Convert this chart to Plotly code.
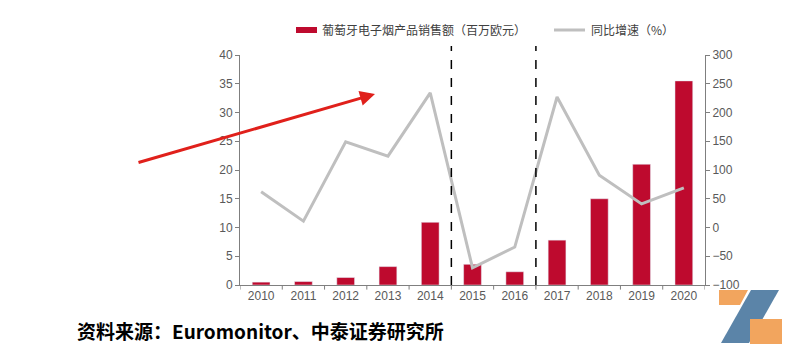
import plotly.graph_objects as go

years = ["2010", "2011", "2012", "2013", "2014", "2015", "2016", "2017", "2018", "2019", "2020"]
sales = [0.5, 0.6, 1.3, 3.2, 10.9, 3.6, 2.3, 7.8, 15.0, 21.0, 35.5]
growth = [62, 11, 149, 124, 234, -70, -34, 227, 91, 41, 69]

bar_name = "葡萄牙电子烟产品销售额（百万欧元）"
line_name = "同比增速（%）"
source_text = "资料来源：Euromonitor、中泰证券研究所"

BAR_COLOR = "#BE0A2E"
LINE_COLOR = "#BFBFBF"

L, R, T, B = 240, 705, 55, 285
W, H = R - L, B - T

def px(x):
    return (x - L) / W

def py(y):
    return (B - y) / H

fig = go.Figure()
fig.add_trace(go.Bar(x=years, y=sales, name=bar_name, marker_color=BAR_COLOR,
                     width=0.42, yaxis="y", showlegend=False))
fig.add_trace(go.Scatter(x=years, y=growth, name=line_name, mode="lines",
                         line=dict(color=LINE_COLOR, width=3), yaxis="y2", showlegend=False))

axis_font = dict(family="Liberation Sans, Arial", size=12, color="#595959")
fig.update_layout(
    width=792, height=356,
    margin=dict(l=L, r=792 - R, t=T, b=356 - B),
    paper_bgcolor="white", plot_bgcolor="white",
    xaxis=dict(type="category", showgrid=False, showline=True, linecolor="#7F7F7F",
               linewidth=1, ticks="", tickfont=axis_font, range=[-0.5, 10.5]),
    yaxis=dict(range=[0, 40], dtick=5, showgrid=False, showline=True, linecolor="#7F7F7F",
               ticks="outside", ticklen=4, tickcolor="#7F7F7F", tickfont=axis_font, zeroline=False),
    yaxis2=dict(range=[-100, 300], dtick=50, overlaying="y", side="right", showgrid=False,
                showline=True, linecolor="#7F7F7F", ticks="outside", ticklen=4,
                tickcolor="#7F7F7F", tickfont=axis_font, zeroline=False),
)

shapes = []
for i in range(12):
    shapes.append(dict(type="line", xref="x", yref="paper", x0=i - 0.5, x1=i - 0.5,
                       y0=0, y1=-0.02, line=dict(color="#7F7F7F", width=1)))
for xv in [4.5, 6.5]:
    shapes.append(dict(type="line", xref="x", yref="paper", x0=xv, x1=xv, y0=0, y1=py(46),
                       line=dict(color="black", width=1.5, dash="dash")))

# manual legend
shapes.append(dict(type="rect", xref="paper", yref="paper", x0=px(296), x1=px(317),
                   y0=py(33), y1=py(27), fillcolor=BAR_COLOR, line=dict(width=0)))
shapes.append(dict(type="line", xref="paper", yref="paper", x0=px(554), x1=px(585),
                   y0=py(30), y1=py(30), line=dict(color=LINE_COLOR, width=3)))

def path(points):
    return "M " + " L ".join(f"{px(x)},{py(y)}" for x, y in points) + " Z"

shapes.append(dict(type="path", xref="paper", yref="paper",
                   path=path([(719, 290), (748, 290), (740, 305), (719, 305)]),
                   fillcolor="#F2A55E", line=dict(width=0)))
shapes.append(dict(type="path", xref="paper", yref="paper",
                   path=path([(751, 290), (779, 290), (749, 343), (721, 343)]),
                   fillcolor="#5B84A8", line=dict(width=0)))
shapes.append(dict(type="path", xref="paper", yref="paper",
                   path=path([(750, 319), (782, 319), (782, 344), (750, 344)]),
                   fillcolor="#F2A55E", line=dict(width=0)))
fig.update_layout(shapes=shapes)

legend_font = dict(family="Noto Sans CJK SC", size=12, color="#404040")
fig.add_annotation(x=px(320), y=py(30), xref="paper", yref="paper", xanchor="left",
                   yanchor="middle", showarrow=False, text=bar_name, font=legend_font)
fig.add_annotation(x=px(589), y=py(30), xref="paper", yref="paper", xanchor="left",
                   yanchor="middle", showarrow=False, text=line_name, font=legend_font)

fig.add_annotation(x=px(375), y=py(94), xref="paper", yref="paper",
                   ax=137 - 375, ay=163 - 94, axref="pixel", ayref="pixel",
                   showarrow=True, arrowhead=2, arrowsize=1, arrowwidth=3,
                   arrowcolor="#E0201B", text="")
fig.add_annotation(x=px(75), y=py(330), xref="paper", yref="paper", xanchor="left",
                   yanchor="middle", showarrow=False, text="<b>" + source_text + "</b>",
                   font=dict(family="Noto Sans CJK SC", size=19, color="black"))

fig.write_html("out.html")
